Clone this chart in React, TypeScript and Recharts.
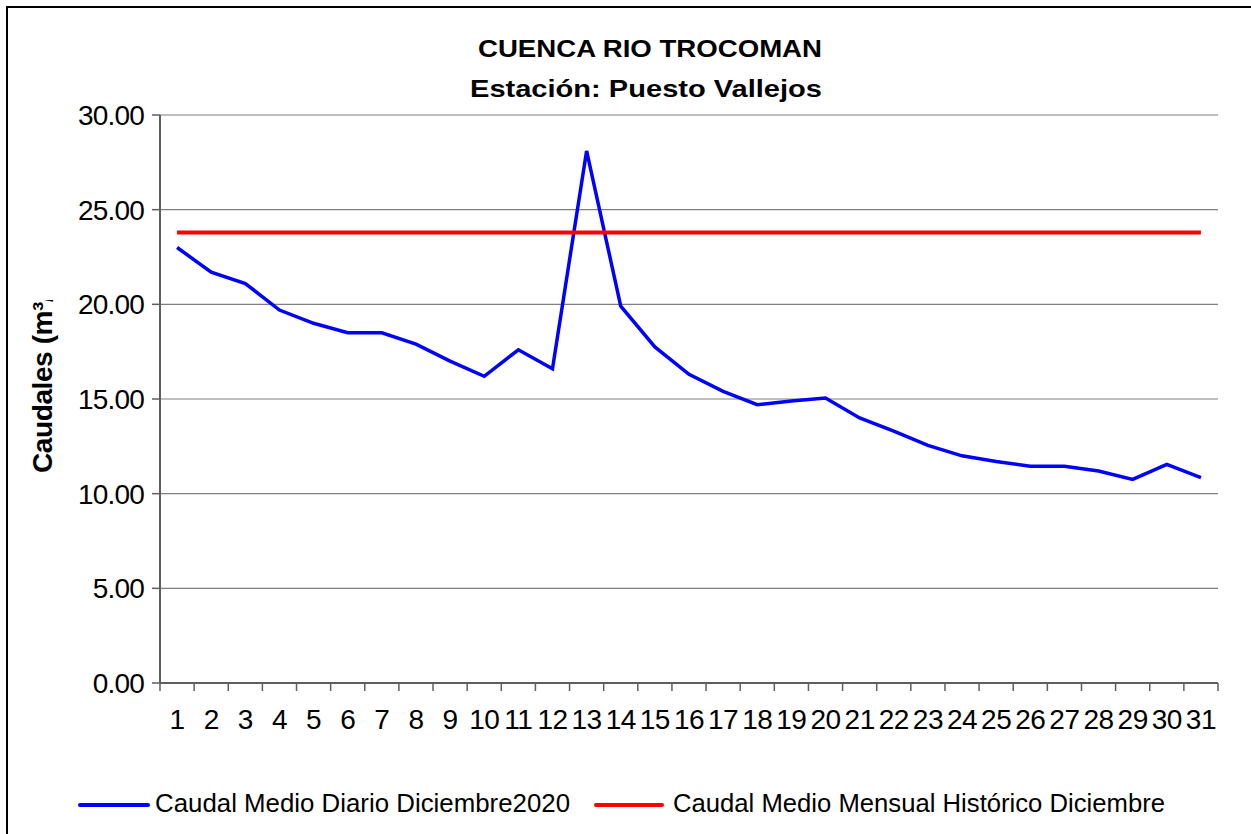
import React from 'react'
import { CartesianGrid, Line, LineChart, XAxis, YAxis } from 'recharts'

// dias de diciembre 2020
const dias = ['1', '2', '3', '4', '5', '6', '7', '8', '9', '10', '11', '12', '13', '14', '15', '16',
  '17', '18', '19', '20', '21', '22', '23', '24', '25', '26', '27', '28', '29', '30', '31']

// caudal medio diario (m3/s)
const caudalDiario = [23.0, 21.7, 21.1, 19.7, 19.0, 18.5, 18.5, 17.9, 17.0, 16.2, 17.6, 16.6, 28.1, 19.9,
  17.75, 16.3, 15.4, 14.7, 14.9, 15.05, 14.0, 13.3, 12.55, 12.0, 11.7, 11.45, 11.45, 11.2, 10.75, 11.55, 10.85]

// caudal medio mensual historico diciembre
const historicoDiciembre = 23.8

const yTicks = [0, 5, 10, 15, 20, 25, 30]

const serieDiario = 'Caudal Medio Diario Diciembre2020'
const serieHistorico = 'Caudal Medio Mensual Histórico Diciembre'

const data = dias.map((d, i) => ({ dia: d, diario: caudalDiario[i], historico: historicoDiciembre }))

const W = 1251
const H = 834
const margin = { top: 115, right: 33, bottom: 111, left: 90 }
const plotW = W - 160 - margin.right
const font = '"Liberation Sans", Arial, sans-serif'
const axisGray = '#5f5f5f'

const XTick = (props: any) => {
  const { x, y, index } = props
  const bw = plotW / dias.length
  const left = x - bw / 2
  return (
    <g>
      <line x1={left} y1={y} x2={left} y2={y + 8} stroke={axisGray} strokeWidth={1.5} />
      {index === dias.length - 1 && (
        <line x1={x + bw / 2} y1={y} x2={x + bw / 2} y2={y + 8} stroke={axisGray} strokeWidth={1.5} />
      )}
      <text x={x} y={y + 46} textAnchor='middle' fontSize={28} fontFamily={font} fill='#000' letterSpacing={-0.5}>
        {props.payload.value}
      </text>
    </g>
  )
}

const YTick = (props: any) => {
  const { x, y, payload } = props
  return (
    <text x={x} y={y + 10} textAnchor='end' fontSize={28} fontFamily={font} fill='#000' letterSpacing={-0.8}>
      {Number(payload.value).toFixed(2)}
    </text>
  )
}

export default function App() {
  return (
    <div style={{ position: 'absolute', left: 0, top: 0, width: W, height: H, background: '#fff', overflow: 'hidden' }}>
      <LineChart width={W} height={H} data={data} margin={margin}>
        <CartesianGrid vertical={false} stroke='#808080' strokeWidth={1.2} />
        <XAxis
          dataKey='dia'
          scale='band'
          height={40}
          tickSize={0}
          tickMargin={0}
          tickLine={false}
          interval={0}
          axisLine={{ stroke: axisGray, strokeWidth: 2 }}
          tick={<XTick />}
        />
        <YAxis
          width={70}
          domain={[0, 30]}
          ticks={yTicks}
          tickSize={8}
          tickMargin={8}
          tickLine={{ stroke: axisGray, strokeWidth: 1.5 }}
          axisLine={{ stroke: axisGray, strokeWidth: 2 }}
          tick={<YTick />}
        />
        <YAxis
          yAxisId='borde'
          orientation='right'
          width={0}
          domain={[0, 30]}
          tick={false}
          tickLine={false}
          axisLine={{ stroke: '#8a8a8a', strokeWidth: 2.5 }}
        />
        <Line
          dataKey='diario'
          name={serieDiario}
          type='linear'
          stroke='#0000ff'
          strokeWidth={3.5}
          dot={false}
          isAnimationActive={false}
        />
        <Line
          dataKey='historico'
          name={serieHistorico}
          type='linear'
          stroke='#ff0000'
          strokeWidth={4}
          dot={false}
          isAnimationActive={false}
        />
      </LineChart>

      <svg width={W} height={H} style={{ position: 'absolute', left: 0, top: 0, pointerEvents: 'none' }}>
        <rect x={7} y={7} width={1400} height={1000} fill='none' stroke='#000' strokeWidth={2} />
        <text x={650} y={57} textAnchor='middle' fontSize={24} fontWeight='bold' fontFamily={font}
          textLength={344} lengthAdjust='spacingAndGlyphs'>CUENCA RIO TROCOMAN</text>
        <text x={646} y={97} textAnchor='middle' fontSize={24} fontWeight='bold' fontFamily={font}
          textLength={352} lengthAdjust='spacingAndGlyphs'>Estación: Puesto Vallejos</text>

        <defs>
          <clipPath id='clipLabel'>
            <rect x={0} y={300} width={120} height={300} />
          </clipPath>
        </defs>
        <g clipPath='url(#clipLabel)'>
          <text transform='translate(52,473) rotate(-90)' fontSize={28} fontWeight='bold' fontFamily={font}
            letterSpacing={-0.4}>Caudales (m³/s)</text>
        </g>

        <line x1={80} y1={805} x2={148} y2={805} stroke='#0000ff' strokeWidth={4} strokeLinecap='round' />
        <text x={155} y={812} fontSize={25} fontFamily={font} textLength={415} lengthAdjust='spacingAndGlyphs'>
          {serieDiario}
        </text>
        <line x1={596} y1={805} x2={662} y2={805} stroke='#ff0000' strokeWidth={4} strokeLinecap='round' />
        <text x={673} y={812} fontSize={25} fontFamily={font} textLength={492} lengthAdjust='spacingAndGlyphs'>
          {serieHistorico}
        </text>
      </svg>
    </div>
  )
}
